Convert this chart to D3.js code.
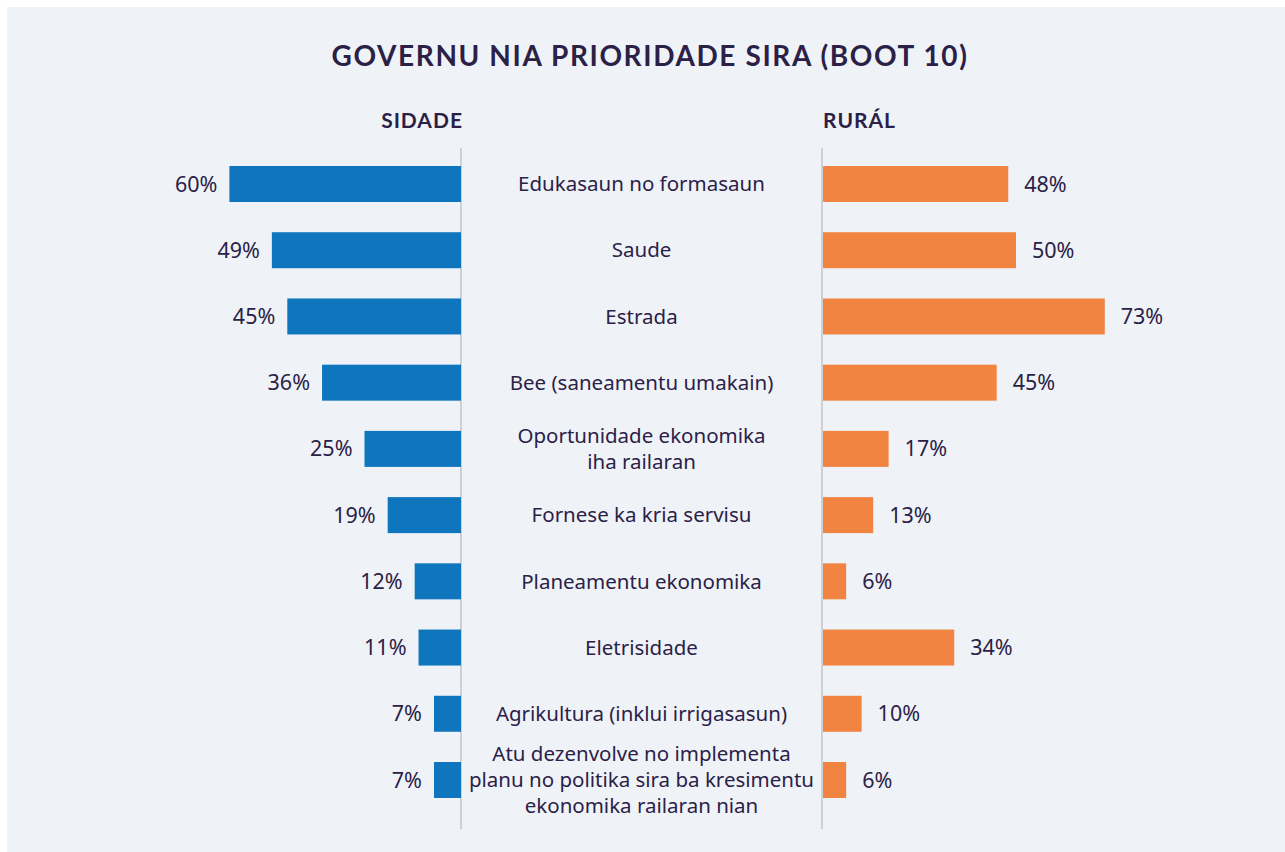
<!DOCTYPE html>
<html>
<head>
<meta charset="utf-8">
<script src="https://cdn.jsdelivr.net/npm/d3@7"></script>
<style>
  body { margin: 0; background: #ffffff; }
  text { font-family: "Noto Sans", Lato, sans-serif; fill: #2b2147; }
  .head { font-family: Lato, "Noto Sans", sans-serif; }
</style>
</head>
<body>
<div id="chart"></div>
<script>
// data
var categories = [
  ["Edukasaun no formasaun"],
  ["Saude"],
  ["Estrada"],
  ["Bee (saneamentu umakain)"],
  ["Oportunidade ekonomika", "iha railaran"],
  ["Fornese ka kria servisu"],
  ["Planeamentu ekonomika"],
  ["Eletrisidade"],
  ["Agrikultura (inklui irrigasasun)"],
  ["Atu dezenvolve no implementa", "planu no politika sira ba kresimentu", "ekonomika railaran nian"]
];
var sidade = [60, 49, 45, 36, 25, 19, 12, 11, 7, 7];
var rural = [48, 50, 73, 45, 17, 13, 6, 34, 10, 6];

var title = "GOVERNU NIA PRIORIDADE SIRA (BOOT 10)";
var leftHead = "SIDADE", rightHead = "RURÁL";

var W = 1285, H = 852;
var leftAxis = 461, rightAxis = 822;
var barH = 36;

var svg = d3.select("#chart")
  .append("svg")
    .attr("width", W)
    .attr("height", H);

// panel background
svg.append("rect")
  .attr("x", 7)
  .attr("y", 7)
  .attr("width", W - 7)
  .attr("height", H - 7)
  .attr("fill", "#eff3f8")

var keys = categories.map(function(d, i){ return i })

var y = d3.scalePoint()
  .domain(keys)
  .range([184, 780])

// same scale for both sides, 1% ~ 3.86px
var xl = d3.scaleLinear()
  .domain([0, 100])
  .range([leftAxis, leftAxis - 386])
var xr = d3.scaleLinear()
  .domain([0, 100])
  .range([rightAxis + 1, rightAxis + 1 + 386])

svg.append("text")
  .attr("class", "head")
  .attr("x", 650)
  .attr("y", 66)
  .attr("text-anchor", "middle")
  .attr("font-size", "28px")
  .attr("font-weight", "bold")
  .attr("letter-spacing", "1.6px")
  .text(title)

svg.append("text")
  .attr("class", "head")
  .attr("x", leftAxis + 2)
  .attr("y", 128)
  .attr("text-anchor", "end")
  .attr("font-size", "21px")
  .attr("font-weight", "bold")
  .attr("letter-spacing", "1px")
  .text(leftHead)

svg.append("text")
  .attr("class", "head")
  .attr("x", rightAxis + 1)
  .attr("y", 128)
  .attr("font-size", "21px")
  .attr("font-weight", "bold")
  .attr("letter-spacing", "1px")
  .text(rightHead)

// center lines
svg.selectAll(".axisLine")
  .data([leftAxis, rightAxis])
  .enter()
  .append("line")
    .attr("class", "axisLine")
    .attr("x1", function(d){ return d })
    .attr("x2", function(d){ return d })
    .attr("y1", 148)
    .attr("y2", 829)
    .attr("stroke", "#cfd0d3")
    .attr("stroke-width", 2)

// left bars
svg.selectAll(".barL")
  .data(sidade)
  .enter()
  .append("rect")
    .attr("class", "barL")
    .attr("x", function(d){ return xl(d) })
    .attr("y", function(d, i){ return y(i) - barH/2 })
    .attr("width", function(d){ return xl(0) - xl(d) })
    .attr("height", barH)
    .attr("fill", "#0f75bc")

svg.selectAll(".labL")
  .data(sidade)
  .enter()
  .append("text")
    .attr("class", "labL")
    .attr("x", function(d){ return xl(d) - 12 })
    .attr("y", function(d, i){ return y(i) })
    .attr("dy", "0.35em")
    .attr("text-anchor", "end")
    .attr("font-size", "21.5px")
    .text(function(d){ return d + "%" })

// right bars
svg.selectAll(".barR")
  .data(rural)
  .enter()
  .append("rect")
    .attr("class", "barR")
    .attr("x", xr(0))
    .attr("y", function(d, i){ return y(i) - barH/2 })
    .attr("width", function(d){ return xr(d) - xr(0) })
    .attr("height", barH)
    .attr("fill", "#f08440")

svg.selectAll(".labR")
  .data(rural)
  .enter()
  .append("text")
    .attr("class", "labR")
    .attr("x", function(d){ return xr(d) + 16 })
    .attr("y", function(d, i){ return y(i) })
    .attr("dy", "0.35em")
    .attr("font-size", "21.5px")
    .text(function(d){ return d + "%" })

// category names in the middle
var lineH = 26
var cats = svg.selectAll(".cat")
  .data(categories)
  .enter()
  .append("text")
    .attr("class", "cat")
    .attr("text-anchor", "middle")
    .attr("font-size", "20.5px")
    .attr("y", function(d, i){ return y(i) - (d.length - 1) * lineH / 2 })

cats.selectAll("tspan")
  .data(function(d){ return d })
  .enter()
  .append("tspan")
    .attr("x", (leftAxis + rightAxis) / 2)
    .attr("dy", function(d, j){ return j == 0 ? "0.35em" : lineH })
    .text(function(d){ return d })
</script>
</body>
</html>
